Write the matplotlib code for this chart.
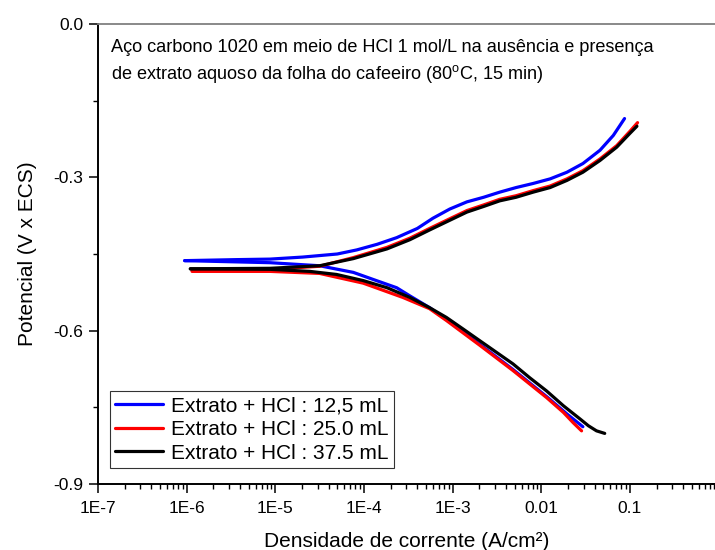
import numpy as np
import matplotlib
matplotlib.use("Agg")
import matplotlib.pyplot as plt
from matplotlib.ticker import FixedLocator, FuncFormatter, LogLocator, NullFormatter

plt.rcParams['font.family'] = ['Liberation Sans', 'DejaVu Sans']
plt.rcParams['mathtext.fontset'] = 'custom'
plt.rcParams['mathtext.rm'] = 'Liberation Sans'

# current density (A/cm2) and potential (V x ECS)
# anodic (upper) branches
i_an_125 = [9.5e-7, 3.7e-6, 8.7e-6, 2.04e-5, 5.0e-5, 8.3e-5, 1.41e-4, 2.34e-4, 4.0e-4,
            6.0e-4, 9.3e-4, 1.45e-3, 2.24e-3, 3.4e-3, 5.2e-3, 8.1e-3, 1.26e-2, 1.95e-2,
            2.95e-2, 4.6e-2, 6.5e-2, 8.7e-2]
E_an_125 = [-0.463, -0.461, -0.460, -0.456, -0.450, -0.442, -0.431, -0.418, -0.400,
            -0.380, -0.362, -0.348, -0.339, -0.329, -0.320, -0.312, -0.303, -0.290,
            -0.273, -0.247, -0.218, -0.185]

i_an_250 = [1.15e-6, 8.7e-6, 3.16e-5, 7.6e-5, 1.82e-4, 3.3e-4, 5.5e-4, 9.3e-4, 1.45e-3,
            2.24e-3, 3.4e-3, 5.2e-3, 8.1e-3, 1.26e-2, 1.95e-2, 2.95e-2, 4.6e-2, 7.1e-2,
            0.100, 0.122]
E_an_250 = [-0.481, -0.480, -0.474, -0.457, -0.437, -0.419, -0.400, -0.381, -0.365,
            -0.354, -0.343, -0.336, -0.326, -0.317, -0.303, -0.287, -0.264, -0.238,
            -0.210, -0.193]

i_an_375 = [1.1e-6, 8.7e-6, 3.16e-5, 7.6e-5, 1.82e-4, 3.3e-4, 5.5e-4, 9.3e-4, 1.45e-3,
            2.24e-3, 3.4e-3, 5.2e-3, 8.1e-3, 1.26e-2, 1.95e-2, 2.95e-2, 4.6e-2, 7.1e-2,
            0.100, 0.120]
E_an_375 = [-0.479, -0.478, -0.473, -0.459, -0.440, -0.422, -0.403, -0.384, -0.368,
            -0.357, -0.346, -0.339, -0.329, -0.320, -0.306, -0.290, -0.267, -0.241,
            -0.214, -0.200]

# cathodic (lower) branches
i_ca_125 = [9.5e-7, 8.7e-6, 3.16e-5, 7.6e-5, 1.38e-4, 2.34e-4, 3.3e-4, 5.5e-4, 8.5e-4,
            2.04e-3, 4.8e-3, 1.15e-2, 1.95e-2, 2.95e-2]
E_ca_125 = [-0.463, -0.467, -0.473, -0.486, -0.502, -0.516, -0.532, -0.555, -0.578,
            -0.627, -0.676, -0.729, -0.763, -0.788]

i_ca_250 = [1.15e-6, 8.7e-6, 3.16e-5, 9.8e-5, 2.75e-4, 5.5e-4, 8.5e-4, 2.04e-3, 4.8e-3,
            1.15e-2, 1.78e-2, 2.29e-2, 2.85e-2]
E_ca_250 = [-0.484, -0.484, -0.488, -0.507, -0.535, -0.557, -0.580, -0.629, -0.678,
            -0.731, -0.760, -0.780, -0.796]

i_ca_375 = [1.1e-6, 8.7e-6, 2.45e-5, 4.9e-5, 9.8e-5, 1.82e-4, 3.3e-4, 5.5e-4, 8.5e-4,
            1.32e-3, 2.04e-3, 3.16e-3, 4.8e-3, 7.4e-3, 1.15e-2, 1.78e-2, 2.75e-2,
            3.4e-2, 4.2e-2, 5.2e-2]
E_ca_375 = [-0.479, -0.480, -0.484, -0.490, -0.502, -0.516, -0.535, -0.555, -0.574,
            -0.597, -0.620, -0.643, -0.665, -0.692, -0.718, -0.747, -0.773, -0.786,
            -0.796, -0.801]

labels = ['Extrato + HCl : 12,5 mL', 'Extrato + HCl : 25.0 mL', 'Extrato + HCl : 37.5 mL']
colors = ['#0000ff', '#ff0000', '#000000']

x_ticks = [1e-7, 1e-6, 1e-5, 1e-4, 1e-3, 1e-2, 1e-1]
x_ticklabels = ['1E-7', '1E-6', '1E-5', '1E-4', '1E-3', '0.01', '0.1']
y_ticks = [-0.9, -0.6, -0.3, 0.0]

fig = plt.figure(figsize=(7.15, 5.5), dpi=100)
ax = fig.add_axes([98 / 715, 1 - 484 / 550, 617 / 715, 460 / 550])

series = [(i_an_125, E_an_125, i_ca_125, E_ca_125),
          (i_an_250, E_an_250, i_ca_250, E_ca_250),
          (i_an_375, E_an_375, i_ca_375, E_ca_375)]
for (ia, Ea, ic, Ec), lab, c in zip(series, labels, colors):
    ax.plot(ia, Ea, color=c, lw=2.3, label=lab, solid_capstyle='round', solid_joinstyle='round')
    ax.plot(ic, Ec, color=c, lw=2.3, solid_capstyle='round', solid_joinstyle='round')

ax.set_xscale('log')
ax.set_xlim(1e-7, 10 ** -0.04)
ax.set_ylim(-0.9, 0.0)

ax.xaxis.set_major_locator(FixedLocator(x_ticks))
ax.xaxis.set_major_formatter(FuncFormatter(lambda v, p: x_ticklabels[x_ticks.index(v)] if v in x_ticks else ''))
ax.xaxis.set_minor_locator(LogLocator(base=10, subs=np.arange(2, 10), numticks=20))
ax.xaxis.set_minor_formatter(NullFormatter())
ax.yaxis.set_major_locator(FixedLocator(y_ticks))
ax.yaxis.set_minor_locator(FixedLocator([-0.75, -0.45, -0.15]))
ax.yaxis.set_major_formatter(FuncFormatter(lambda v, p: '%.1f' % v if abs(v) > 1e-9 else '0.0'))

ax.tick_params(which='major', direction='out', length=6.5, width=1.1, labelsize=12.5, pad=4)
ax.tick_params(axis='x', which='major', pad=6)
ax.tick_params(which='minor', direction='out', length=3.5, width=1.0)
ax.tick_params(axis='both', which='both', top=False, right=False)

ax.spines['right'].set_visible(False)
ax.spines['top'].set_color('#808080')
ax.spines['top'].set_linewidth(1.3)
ax.spines['left'].set_linewidth(1.4)
ax.spines['bottom'].set_linewidth(1.4)

ax.set_xlabel('Densidade de corrente (A/cm²)', fontsize=15, labelpad=11)
ax.set_ylabel('Potencial (V x ECS)', fontsize=15, labelpad=12)

ax.text(0.021, 0.968,
        'Aço carbono 1020 em meio de HCl 1 mol/L na ausência e presença\n'
        'de extrato aquoso da folha do cafeeiro (80$^{\\mathrm{o}}$C, 15 min)',
        transform=ax.transAxes, fontsize=13.1, va='top', ha='left', linespacing=1.45)

leg = ax.legend(loc='lower left', bbox_to_anchor=(0.019, 0.035), borderaxespad=0,
                fontsize=15, frameon=True, fancybox=False, handlelength=2.3,
                labelspacing=0.22, handletextpad=0.4, borderpad=0.25)
leg.get_frame().set_edgecolor('black')
leg.get_frame().set_linewidth(0.8)

fig.savefig('out.png', dpi=100)
